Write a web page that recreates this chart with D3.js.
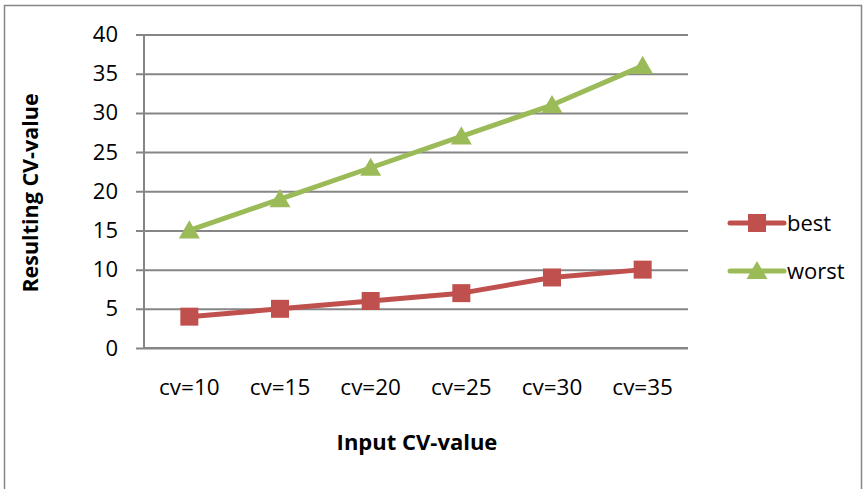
<!DOCTYPE html>
<html>
<head>
<meta charset="utf-8">
<script src="https://cdn.jsdelivr.net/npm/d3@7"></script>
<style>
  html, body { margin: 0; padding: 0; background: #fff; }
  svg { display: block; }
  text { font-family: "Open Sans", "Liberation Sans", sans-serif; fill: #000; }
</style>
</head>
<body>
<svg id="chart" width="865" height="489"></svg>
<script>
// Chart data
const categories = ["cv=10", "cv=15", "cv=20", "cv=25", "cv=30", "cv=35"];
const bestValues = [4, 5, 6, 7, 9, 10];
const worstValues = [15, 19, 23, 27, 31, 36];
const yTicks = [0, 5, 10, 15, 20, 25, 30, 35, 40];
const seriesNames = ["best", "worst"];

const colors = { best: "#C0504D", worst: "#9BBB59" };
const gridColor = "#868686";

const svg = d3.select("#chart");

// Outer chart frame
svg.append("rect")
  .attr("x", 4.5).attr("y", 5.5)
  .attr("width", 857).attr("height", 500)
  .attr("fill", "none").attr("stroke", gridColor).attr("stroke-width", 1.5);

const plot = { left: 144, right: 688, top: 34.5, bottom: 348 };

const x = d3.scaleBand().domain(categories).range([plot.left, plot.right]);
const y = d3.scaleLinear().domain([0, 40]).range([plot.bottom, plot.top]);

// Horizontal gridlines + y axis
const yAxis = d3.axisLeft(y).tickValues(yTicks)
  .tickSize(-(plot.right - plot.left)).tickPadding(26).tickFormat(d3.format("d"));
const gy = svg.append("g").attr("transform", `translate(${plot.left},0)`).call(yAxis);
gy.select(".domain").remove();
gy.selectAll(".tick line").attr("stroke", gridColor).attr("stroke-width", 2)
  .attr("x1", -8);
gy.selectAll(".tick text").attr("font-size", 22).attr("font-family", "Open Sans");

// Vertical axis line
svg.append("line")
  .attr("x1", plot.left).attr("x2", plot.left)
  .attr("y1", plot.top).attr("y2", plot.bottom)
  .attr("stroke", gridColor).attr("stroke-width", 2);

// Category axis
const xAxis = d3.axisBottom(x).tickSize(0).tickPadding(31);
const gx = svg.append("g").attr("transform", `translate(0,${plot.bottom})`).call(xAxis);
gx.select(".domain").attr("stroke", gridColor).attr("stroke-width", 2)
  .attr("d", `M${plot.left},0H${plot.right}`);
gx.selectAll(".tick text").attr("font-size", 22.5).attr("font-family", "Open Sans");

// Axis titles
svg.append("text")
  .attr("x", 417).attr("y", 450)
  .attr("text-anchor", "middle")
  .attr("font-size", 22).attr("font-weight", "bold")
  .text("Input CV-value");

svg.append("text")
  .attr("transform", "translate(38,193) rotate(-90)")
  .attr("text-anchor", "middle")
  .attr("font-size", 21.5).attr("font-weight", "bold")
  .text("Resulting CV-value");

// Series
const series = [
  { name: seriesNames[0], values: bestValues, symbol: d3.symbolSquare, size: 18 * 18 },
  { name: seriesNames[1], values: worstValues, symbol: d3.symbolTriangle, size: 190 }
];

const line = d3.line()
  .x((d, i) => x(categories[i]) + x.bandwidth() / 2)
  .y(d => y(d));

series.forEach(s => {
  svg.append("path")
    .datum(s.values)
    .attr("fill", "none")
    .attr("stroke", colors[s.name])
    .attr("stroke-width", 5)
    .attr("stroke-linejoin", "round")
    .attr("d", line);

  svg.selectAll(null)
    .data(s.values)
    .enter().append("path")
    .attr("d", d3.symbol().type(s.symbol).size(s.size))
    .attr("transform", (d, i) =>
      `translate(${x(categories[i]) + x.bandwidth() / 2},${y(d) + (s.symbol === d3.symbolTriangle ? 2 : 0)})`)
    .attr("fill", colors[s.name]);
});

// Legend
const legend = svg.append("g");
series.forEach((s, i) => {
  const ly = 223 + i * 48;
  legend.append("line")
    .attr("x1", 730).attr("x2", 784)
    .attr("y1", ly).attr("y2", ly)
    .attr("stroke", colors[s.name]).attr("stroke-width", 5)
    .attr("stroke-linecap", "round");
  legend.append("path")
    .attr("d", d3.symbol().type(s.symbol).size(s.size))
    .attr("transform", `translate(757,${ly + (s.symbol === d3.symbolTriangle ? 2 : 0)})`)
    .attr("fill", colors[s.name]);
  legend.append("text")
    .attr("x", 787).attr("y", ly)
    .attr("dy", "0.35em")
    .attr("font-size", 22)
    .text(s.name);
});
</script>
</body>
</html>
